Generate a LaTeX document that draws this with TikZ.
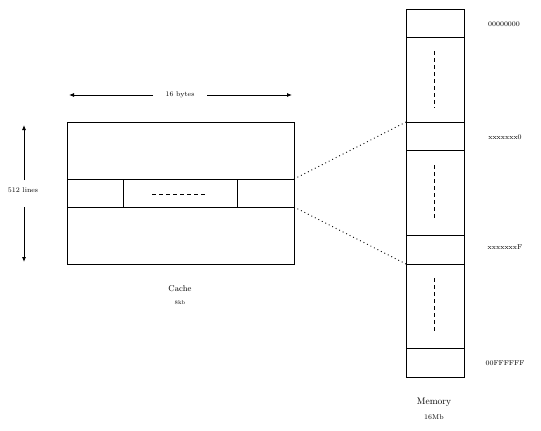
\documentclass[tikz,border=0pt]{standalone}
\usetikzlibrary{arrows.meta}
\begin{document}
\begin{tikzpicture}[x=1pt,y=-1pt,
  box/.style={draw,line width=0.8pt},
  ln/.style={line width=0.8pt},
  halfarrow/.style={line width=0.8pt,-{Latex[length=5pt,width=4pt]}},
  dots/.style={line width=0.9pt,dash pattern=on 0.9pt off 3pt},
  dashln/.style={line width=0.8pt,dash pattern=on 4pt off 3pt},
  lbl/.style={inner sep=0pt,font=\fontsize{7}{8}\selectfont},
  sm/.style={inner sep=0pt,font=\fontsize{5.5}{6}\selectfont},
  big/.style={inner sep=0pt,font=\fontsize{8.5}{10}\selectfont}]
\useasboundingbox (0,0) rectangle (541,431);
% cache
\node[box,minimum width=227pt,minimum height=142pt,anchor=north west,inner sep=0pt] (cache) at (67,122) {};
\coordinate (ctl) at (67,179);
\coordinate (ctr) at (294,179);
\coordinate (cbl) at (67,207);
\coordinate (cbr) at (294,207);
\draw[ln] (ctl) -- (ctr);
\draw[ln] (cbl) -- (cbr);
\coordinate (v1t) at (123,179); \coordinate (v1b) at (123,207);
\coordinate (v2t) at (237,179); \coordinate (v2b) at (237,207);
\draw[ln] (v1t) -- (v1b);
\draw[ln] (v2t) -- (v2b);
\coordinate (cd1) at (152,194); \coordinate (cd2) at (205,194);
\draw[dashln] (cd1) -- (cd2);
% dimension arrows
\node[lbl] (bytes) at (180,95) {16 bytes};
\coordinate (bl) at (69,95); \coordinate (br) at (292,95);
\coordinate (bgl) at (153,95); \coordinate (bgr) at (207,95);
\draw[halfarrow] (bgl) -- (bl);
\draw[halfarrow] (bgr) -- (br);
\node[lbl] (lines) at (23,190) {512 lines};
\coordinate (lt) at (24,125); \coordinate (lb) at (24,262);
\coordinate (lgt) at (24,180); \coordinate (lgb) at (24,207);
\draw[halfarrow] (lgt) -- (lt);
\draw[halfarrow] (lgb) -- (lb);
\node[big] (ctext) at (180,289) {Cache};
\node[sm] (ckb) at (180,303) {8kb};
% memory
\node[box,minimum width=58pt,minimum height=368pt,anchor=north west,inner sep=0pt] (mem) at (406,9) {};
\foreach \y in {37,122,150,235,264,348} {\draw[ln] (406,\y) -- (464,\y);}
\coordinate (md1a) at (434,51); \coordinate (md1b) at (434,108);
\coordinate (md2a) at (434,165); \coordinate (md2b) at (434,220);
\coordinate (md3a) at (434,278); \coordinate (md3b) at (434,331);
\draw[dashln] (md1a) -- (md1b);
\draw[dashln] (md2a) -- (md2b);
\draw[dashln] (md3a) -- (md3b);
\coordinate (mt) at (406,122); \coordinate (mb) at (406,264);
\draw[dots] (ctr) -- (mt);
\draw[dots] (cbr) -- (mb);
\node[lbl] (a0) at (504,24) {00000000};
\node[lbl] (a1) at (505,137) {xxxxxxx0};
\node[lbl] (a2) at (505,247) {xxxxxxxF};
\node[lbl] (a3) at (505,363) {00FFFFFF};
\node[inner sep=0pt,font=\fontsize{9.5}{11}\selectfont] (mtext) at (434,402) {Memory};
\node[lbl] (mmb) at (434,417) {16Mb};
\end{tikzpicture}
\end{document}
